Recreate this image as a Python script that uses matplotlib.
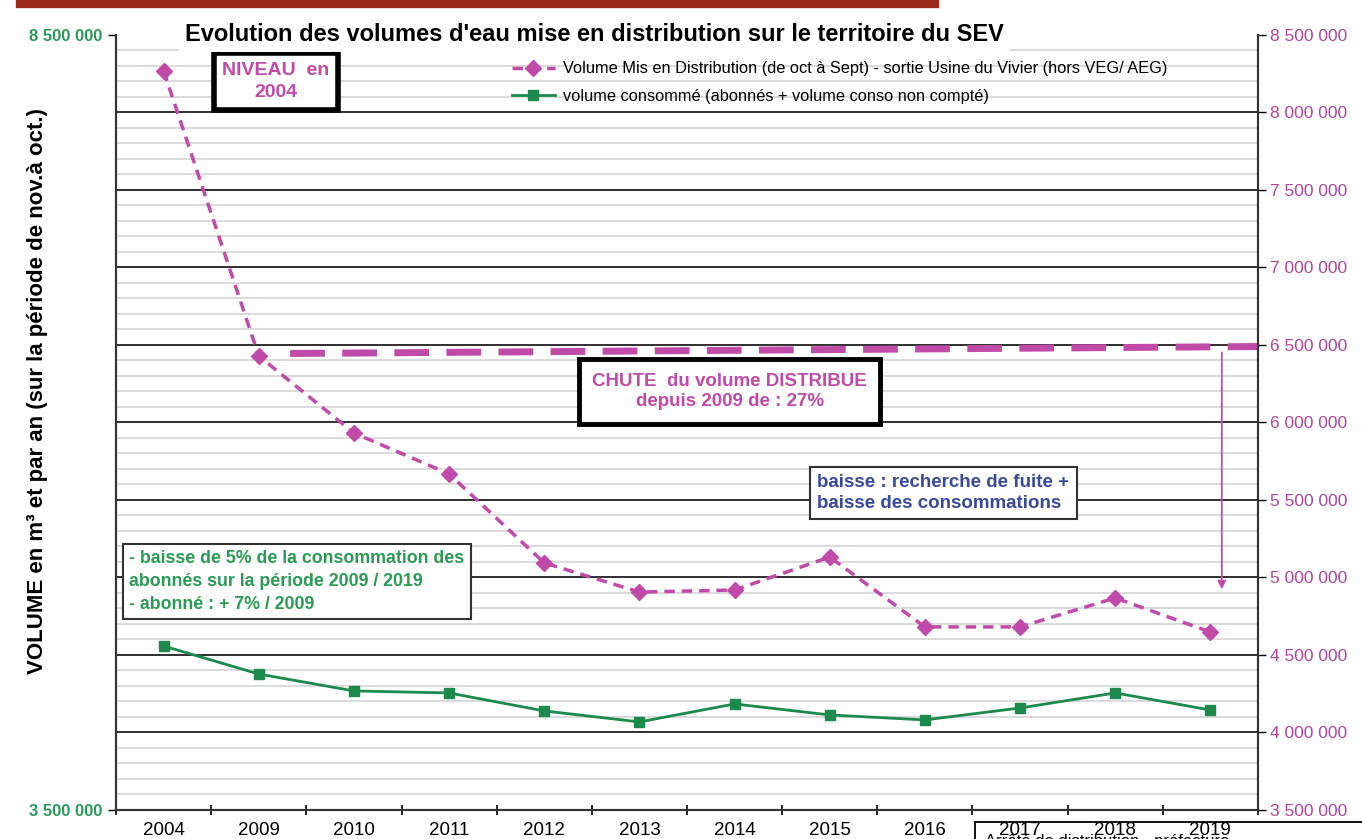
import matplotlib
matplotlib.use("Agg")
from matplotlib import pyplot as plt
from matplotlib.ticker import MultipleLocator, FixedLocator, FuncFormatter
import numpy as np

plt.rcParams['font.family'] = ['Liberation Sans', 'DejaVu Sans']

years = ['2004', '2009', '2010', '2011', '2012', '2013', '2014', '2015',
         '2016', '2017', '2018', '2019']
vol_distribue = [8268000, 6429000, 5932000, 5668000, 5094000, 4906000,
                 4919000, 5132000, 4681000, 4681000, 4868000, 4648000]
vol_consomme = [4558000, 4377000, 4268000, 4255000, 4139000, 4068000,
                4184000, 4113000, 4081000, 4158000, 4255000, 4145000]

niveau_2009 = [6445000, 6490000]

pink = '#c04aa8'
green = '#1b8a4c'
navy = '#3a4a9a'

fig = plt.figure(figsize=(13.62, 8.39), dpi=100)

# cropped box at bottom right (drawn under the axes)
fig.patches.append(plt.Rectangle((975 / 1362, -0.02), 0.4, 0.04,
                                 transform=fig.transFigure, facecolor='white',
                                 edgecolor='black', lw=1.3, zorder=-2))
fig.text(985 / 1362, -0.012, "Arrêté de distribution - préfecture", fontsize=12,
         ha='left', va='bottom', zorder=-1)

ax = fig.add_axes([0.0852, 0.0346, 0.8384, 0.9237])
ax.patch.set_alpha(0)
x = np.arange(len(years))

ax.set_xlim(-0.5, len(years) - 0.5)
ax.set_ylim(3500000, 8500000)

# grid
ax.yaxis.set_minor_locator(MultipleLocator(100000))
ax.grid(True, which='minor', axis='y', color='#d4d4d4', lw=1.2)
ax.set_axisbelow(True)

# series
ax.plot(x, vol_distribue, color=pink, lw=2.5, ls=(0, (3, 2)), marker='D',
        ms=8, mfc=pink, mec=pink, zorder=5,
        label="Volume Mis en Distribution (de oct à Sept) - sortie Usine du Vivier (hors VEG/ AEG)")
ax.plot(x, vol_consomme, color=green, lw=2, marker='s', ms=7,
        mfc=green, mec=green, zorder=5,
        label="volume consommé (abonnés + volume conso non compté)")

# reference level since 2009 and arrow
ax.plot([1.33, len(years) - 0.5], niveau_2009, color=pink, lw=5,
        ls=(0, (5, 2.5)), zorder=4, clip_on=False)
ax.annotate('', xy=(11.12, vol_distribue[5]), xytext=(11.12, 6470000),
            arrowprops=dict(arrowstyle='-|>', color=pink, lw=1.3,
                            mutation_scale=12), zorder=6)

# x axis
ax.set_xticks(x)
ax.set_xticklabels(years, fontsize=13.5)
ax.set_xticks(np.arange(-0.5, len(years), 1), minor=True)
ax.tick_params(axis='x', which='major', length=0, pad=9)
ax.tick_params(axis='x', which='minor', length=7, width=1.2, direction='inout')

# left y axis: labels only at the ends
fmt = FuncFormatter(lambda v, p: f"{int(v):,}".replace(',', ' '))
ax2 = ax.twinx()
ax.yaxis.set_major_locator(FixedLocator([3500000, 8500000]))
ax.yaxis.set_major_formatter(fmt)
ax.tick_params(axis='y', which='major', labelsize=12, labelcolor='#2a9a5a',
               length=6, width=1, direction='out')
ax.tick_params(axis='y', which='minor', length=0)
for lbl in ax.get_yticklabels():
    lbl.set_fontweight('bold')
ax.set_ylabel("VOLUME en m³ et par an (sur la période de nov.à oct.)",
              fontsize=16, fontweight='bold')
ax.yaxis.set_label_coords(-0.06, 0.54)

# major gridlines drawn explicitly (left ticks are only at the ends)
for v in np.arange(4000000, 8500000, 500000):
    ax.axhline(v, color='#222222', lw=1.3, zorder=1)

# right y axis
ax2.set_ylim(ax.get_ylim())
ax2.yaxis.set_major_locator(MultipleLocator(500000))
ax2.yaxis.set_major_formatter(fmt)
ax2.tick_params(axis='y', labelsize=12.5, labelcolor='#b2449c', length=6,
                width=1, direction='out', pad=3)

for a in (ax, ax2):
    a.spines['top'].set_visible(False)
    for s in ('left', 'right', 'bottom'):
        a.spines[s].set_color('#333333')
        a.spines[s].set_linewidth(1.5)

# title sitting on the top gridline
ax.text(0.419, 1.0, "Evolution des volumes d'eau mise en distribution sur le territoire du SEV",
        transform=ax.transAxes, ha='center', va='center', fontsize=17,
        fontweight='bold', bbox=dict(facecolor='white', edgecolor='none', pad=4),
        zorder=10)

# legend
leg = ax.legend(loc='upper left', bbox_to_anchor=(0.334, 0.985), frameon=False,
                fontsize=11.8, handlelength=2.6, handletextpad=0.5,
                labelspacing=0.75)
leg.set_zorder(10)

# annotation boxes
ax.text(1.18, 8200000, "NIVEAU  en\n2004", ha='center', va='center', fontsize=14,
        fontweight='bold', color=pink, linespacing=1.35,
        bbox=dict(facecolor='white', edgecolor='black', lw=4,
                  boxstyle='square,pad=0.45'), zorder=8)
ax.text(5.95, 6200000, "CHUTE  du volume DISTRIBUE\ndepuis 2009 de : 27%",
        ha='center', va='center', fontsize=13.5, fontweight='bold', color=pink,
        linespacing=1.3,
        bbox=dict(facecolor='white', edgecolor='black', lw=3.5,
                  boxstyle='square,pad=0.7'), zorder=8)
ax.text(6.87, 5545000, "baisse : recherche de fuite +\nbaisse des consommations",
        ha='left', va='center', fontsize=13.5, fontweight='bold', color=navy,
        linespacing=1.3,
        bbox=dict(facecolor='white', edgecolor='#333333', lw=1.5,
                  boxstyle='square,pad=0.4'), zorder=8)
ax.text(-0.36, 4975000,
        "- baisse de 5% de la consommation des\nabonnés sur la période 2009 / 2019\n- abonné : + 7% / 2009",
        ha='left', va='center', fontsize=12.8, fontweight='bold', color='#2a9a55',
        linespacing=1.45,
        bbox=dict(facecolor='white', edgecolor='#333333', lw=1.5,
                  boxstyle='square,pad=0.35'), zorder=8)

# red heading bar at top
fig.add_artist(plt.Line2D([20 / 1362, 935 / 1362], [0.9955, 0.9955],
                          transform=fig.transFigure, color='#9b2a1a', lw=6))

fig.savefig("out.png", dpi=100)
